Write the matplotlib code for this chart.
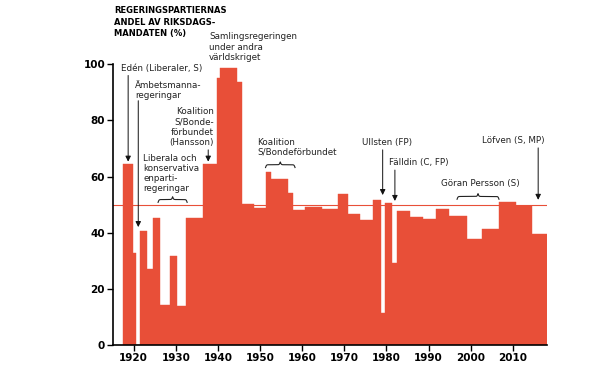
"""
Regeringspartiernas andel av riksdagsmandaten, 1917-2018.
"""

import numpy as np
import matplotlib
matplotlib.use("Agg")
import matplotlib.pyplot as plt
from matplotlib import font_manager


# perioder (start, slut) och andel av mandaten i procent
period_start = [1917.5, 1919.9, 1920.5, 1921.5, 1923.1, 1924.6, 1926.2, 1928.6,
                1930.4, 1932.4, 1936.5, 1939.7, 1940.6, 1944.6, 1945.6, 1948.5,
                1951.4, 1952.6, 1956.7, 1957.9, 1960.6, 1964.6, 1968.5, 1970.8,
                1973.7, 1976.7, 1978.7, 1979.6, 1981.3, 1982.6, 1985.5, 1988.7,
                1991.7, 1994.9, 1999.0, 2002.7, 2006.6, 2010.7, 2014.6]
period_slut = period_start[1:] + [2018.0]
andel = [64.4, 32.7, 0.0, 40.6, 27.1, 45.1, 14.2, 31.7,
         13.9, 45.2, 64.4, 95.0, 98.8, 93.8, 50.1, 48.7,
         61.7, 59.1, 54.3, 48.1, 49.0, 48.3, 53.7, 46.7,
         44.5, 51.7, 11.3, 50.5, 29.1, 47.7, 45.7, 44.8,
         48.5, 46.0, 37.6, 41.2, 51.1, 49.5, 39.4]

ar_ticks = list(range(1920, 2011, 10))
procent_ticks = [0, 20, 40, 60, 80, 100]

rod = "#e84f38"

# smal font om den finns, annars DejaVu
namn = {f.name for f in font_manager.fontManager.ttflist}
if "Liberation Sans Narrow" in namn:
    smal = ["Liberation Sans Narrow", "DejaVu Sans"]
    titel_storlek, tick_storlek = 7.6, 8.3
else:
    smal = ["DejaVu Sans"]
    titel_storlek, tick_storlek = 6.0, 7.5
titel_font = dict(family=smal, weight="bold")
text_font = dict(family="DejaVu Sans", fontsize=6.3, color="#222222")


def klammer(ax, x0, x1, y, h, k=9.0):
    """Ritar en horisontell klammer mellan x0 och x1, spetsen uppat."""
    x = np.linspace(x0, x1, 201)
    halv = x[:101]
    yh = 1 / (1 + np.exp(-k * (halv - halv[0]))) + 1 / (1 + np.exp(-k * (halv - halv[-1])))
    yy = np.concatenate((yh, yh[-2::-1]))
    ax.plot(x, y + h * (yy - 1), color="#222222", lw=0.8, clip_on=False)


def pil(ax, x, y_fran, y_till):
    ax.annotate("", xy=(x, y_till), xytext=(x, y_fran),
                arrowprops=dict(arrowstyle="-|>", color="#111111", lw=0.7,
                                mutation_scale=8, shrinkA=0, shrinkB=0),
                annotation_clip=False)


fig = plt.figure(figsize=(6.0, 3.67), dpi=100)
ax = fig.add_axes([0.189, 0.06, 0.722, 0.765])

bredd = np.array(period_slut) - np.array(period_start)
ax.bar(period_start, andel, width=bredd, align="edge", color=rod,
       edgecolor=rod, linewidth=0.3)
ax.axhline(50, color=rod, lw=0.8, zorder=0.5)

ax.set_xlim(1915.2, 2018)
ax.set_ylim(0, 100)
ax.set_xticks(ar_ticks)
ax.set_yticks(procent_ticks)
for lab in ax.get_xticklabels() + ax.get_yticklabels():
    lab.set_family(smal)
    lab.set_fontweight("bold")
    lab.set_fontsize(tick_storlek)
ax.tick_params(axis="both", length=4, width=1, pad=2, color="black")
for s in ["top", "right"]:
    ax.spines[s].set_visible(False)
for s in ["left", "bottom"]:
    ax.spines[s].set_linewidth(1.2)

# rubrik
ax.text(1915.3, 120.6, "REGERINGSPARTIERNAS\nANDEL AV RIKSDAGS-\nMANDATEN (%)",
        va="top", ha="left", fontsize=titel_storlek, linespacing=1.35, **titel_font)

# etiketter
ax.text(1937.9, 111.4, "Samlingsregeringen\nunder andra\nvärldskriget",
        va="top", ha="left", linespacing=1.2, **text_font)
ax.text(1916.9, 98.6, "Edén (Liberaler, S)", va="center", ha="left", **text_font)
ax.text(1920.3, 94.2, "Ämbetsmanna-\nregeringar", va="top", ha="left",
        linespacing=1.2, **text_font)
ax.text(1939.1, 84.6, "Koalition\nS/Bonde-\nförbundet\n(Hansson)", va="top",
        ha="right", multialignment="right", linespacing=1.15, **text_font)
ax.text(1922.3, 68.2, "Liberala och\nkonservativa\nenparti-\nregeringar", va="top",
        ha="left", linespacing=1.15, **text_font)
ax.text(1949.3, 73.9, "Koalition\nS/Bondeförbundet", va="top", ha="left",
        linespacing=1.2, **text_font)
ax.text(1980.2, 72.2, "Ullsten (FP)", va="center", ha="center", **text_font)
ax.text(1980.6, 65.1, "Fälldin (C, FP)", va="center", ha="left", **text_font)
ax.text(1993.05, 57.4, "Göran Persson (S)", va="center", ha="left", **text_font)
ax.text(2010.2, 73.0, "Löfven (S, MP)", va="center", ha="center", **text_font)

# klamrar
klammer(ax, 1925.8, 1932.7, 51.8, 2.0)
klammer(ax, 1951.3, 1958.3, 64.2, 2.0)
klammer(ax, 1996.75, 2006.7, 52.9, 2.0)

# pilar
pil(ax, 1918.7, 96.0, 65.3)
pil(ax, 1921.1, 87.0, 42.0)
pil(ax, 1937.7, 69.5, 65.3)
pil(ax, 1979.1, 69.5, 53.4)
pil(ax, 1982.0, 62.3, 51.3)
pil(ax, 2016.0, 70.2, 51.7)

plt.savefig("out.png", dpi=100)
